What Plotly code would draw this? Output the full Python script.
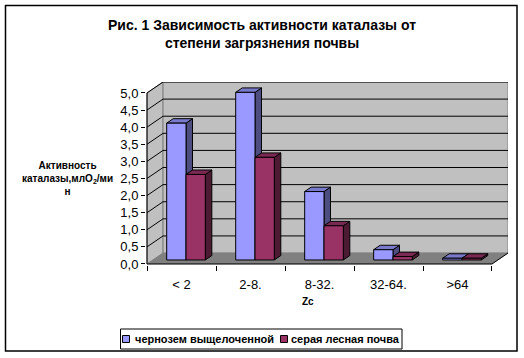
import plotly.graph_objects as go

# ---- data ----
categories = ["< 2", "2-8.", "8-32.", "32-64.", ">64"]
chernozem = [4.0, 4.9, 2.0, 0.3, 0.05]
gray_forest = [2.5, 3.0, 1.0, 0.1, 0.05]
series_names = ["чернозем выщелоченной", "серая лесная почва"]
y_ticks = [0.0, 0.5, 1.0, 1.5, 2.0, 2.5, 3.0, 3.5, 4.0, 4.5, 5.0]

# ---- pseudo-3D geometry (data units) ----
DX, DY = 0.232, 0.32      # wall depth
OX, OY = 0.065, 0.117     # front face offset of bars
BW = 0.28                 # bar width
BDX, BDY = 0.094, 0.13    # bar depth
YMAX = max(y_ticks)
N = len(categories)

FONT = "Liberation Sans, Arial, sans-serif"
colors = {
    "blue": ("#9999FF", "#7A7ACC", "#4D4D80"),
    "red": ("#993366", "#7A2952", "#4D1A33"),
}


def poly_trace(polys, fill, line="black", width=1):
    xs, ys = [], []
    for p in polys:
        xs += [q[0] for q in p] + [p[0][0], None]
        ys += [q[1] for q in p] + [p[0][1], None]
    return go.Scatter(x=xs, y=ys, mode="lines", fill="toself", fillcolor=fill,
                      line=dict(color=line, width=width), hoverinfo="skip",
                      showlegend=False)


def line_trace(segs, color="black", width=1):
    xs, ys = [], []
    for s in segs:
        xs += [q[0] for q in s] + [None]
        ys += [q[1] for q in s] + [None]
    return go.Scatter(x=xs, y=ys, mode="lines", line=dict(color=color, width=width),
                      hoverinfo="skip", showlegend=False)


fig = go.Figure()

x_left, x_right = -0.5, N - 0.5
# walls and floor
fig.add_trace(poly_trace([[(x_left, 0), (x_left + DX, DY), (x_left + DX, YMAX + DY), (x_left, YMAX)]],
                         "#C0C0C0", "#808080"))
fig.add_trace(poly_trace([[(x_left + DX, DY), (x_right + DX, DY), (x_right + DX, YMAX + DY), (x_left + DX, YMAX + DY)]],
                         "#C0C0C0", "#808080"))
fig.add_trace(poly_trace([[(x_left, 0), (x_right, 0), (x_right + DX, DY), (x_left + DX, DY)]],
                         "#808080", "#808080", 0.5))
# gridlines
fig.add_trace(line_trace([[(x_left, v), (x_left + DX, v + DY), (x_right + DX, v + DY)]
                          for v in y_ticks if v > 0]))
# axis lines
fig.add_trace(line_trace([[(x_left, 0), (x_left, YMAX)],
                          [(x_left, 0), (x_right, 0), (x_right + DX, DY)]]))


def bar_polys(values, side):
    fronts, tops, sides = [], [], []
    for i, v in enumerate(values):
        if side == 0:
            x0, x1 = i - BW + OX, i + OX
        else:
            x0, x1 = i + OX, i + BW + OX
        y0, y1 = OY, OY + v
        fronts.append([(x0, y0), (x1, y0), (x1, y1), (x0, y1)])
        tops.append([(x0, y1), (x1, y1), (x1 + BDX, y1 + BDY), (x0 + BDX, y1 + BDY)])
        sides.append([(x1, y0), (x1 + BDX, y0 + BDY), (x1 + BDX, y1 + BDY), (x1, y1)])
    return fronts, tops, sides


for k, (vals, key) in enumerate([(chernozem, "blue"), (gray_forest, "red")]):
    f, t, s = bar_polys(vals, k)
    fc, tc, sc = colors[key]
    fig.add_trace(poly_trace(s, sc))
    fig.add_trace(poly_trace(t, tc))
    fig.add_trace(poly_trace(f, fc))

L, R, T, B = 146, 16, 82, 93
W = 524 - L - R
H = 358 - T - B


def xp(px):
    return (px - L) / W


def yp(py):
    return (358 - B - py) / H


# manual legend (box, swatches, labels)
legend_shapes = [dict(type="rect", xref="paper", yref="paper",
                      x0=xp(120.5), x1=xp(402), y0=yp(349), y1=yp(329),
                      line=dict(color="black", width=1), fillcolor="white")]
legend_ann = []
for name, key, sx, tx in zip(series_names, ["blue", "red"], [122.5, 280.5], [133, 289]):
    legend_shapes.append(dict(type="rect", xref="paper", yref="paper",
                              x0=xp(sx), x1=xp(sx + 7), y0=yp(342.5), y1=yp(335.5),
                              line=dict(color="black", width=1), fillcolor=colors[key][0]))
    legend_ann.append(dict(text="<b>" + name + "</b>", x=xp(tx), y=yp(339), xref="paper", yref="paper",
                           xanchor="left", yanchor="middle", showarrow=False,
                           font=dict(size=11)))

fig.update_layout(
    width=524, height=358, autosize=False,
    margin=dict(l=L, r=R, t=T, b=B),
    paper_bgcolor="white", plot_bgcolor="white",
    separators=", ",
    font=dict(family=FONT, color="black", size=13),
    showlegend=False,
    xaxis=dict(range=[-0.515, x_right + DX], showgrid=False, zeroline=False, showline=False,
               tickmode="array", tickvals=list(range(N)), ticktext=categories, ticks="",
               ticklabelstandoff=10,
               minor=dict(tickmode="array", tickvals=[i - 0.5 for i in range(N + 1)],
                          ticks="outside", ticklen=5, tickcolor="black", showgrid=False),
               tickfont=dict(size=13), fixedrange=True),
    yaxis=dict(range=[-0.03, YMAX + DY], showgrid=False, zeroline=False, showline=False,
               tickmode="array", tickvals=y_ticks, tickformat=".1f",
               ticks="outside", ticklen=4, tickcolor="black",
               tickfont=dict(size=13), fixedrange=True),
    annotations=[
        dict(text="<b>Рис. 1 Зависимость активности каталазы от<br>степени загрязнения почвы</b>",
             x=xp(262), y=yp(34), xref="paper", yref="paper", xanchor="center", yanchor="middle",
             showarrow=False, font=dict(size=14)),
        dict(text="<b>Zc</b>", x=xp(308), y=yp(301), xref="paper", yref="paper",
             xanchor="center", yanchor="middle", showarrow=False, font=dict(size=10)),
        dict(text="<b>Активность<br>каталазы,млO<sub>2</sub>/ми<br>н</b>",
             x=xp(67), y=yp(178), xref="paper", yref="paper", showarrow=False,
             xanchor="center", yanchor="middle", font=dict(size=10), align="center"),
    ] + legend_ann,
    shapes=[dict(type="rect", xref="paper", yref="paper",
                 x0=xp(5.5), x1=xp(517), y0=yp(351), y1=yp(5.5),
                 line=dict(color="black", width=1.5), fillcolor="rgba(0,0,0,0)", layer="above")]
    + legend_shapes,
)

fig.write_html("out.html", config={"displayModeBar": False},
               post_script="document.body.style.margin='0';document.body.style.overflow='hidden';")
